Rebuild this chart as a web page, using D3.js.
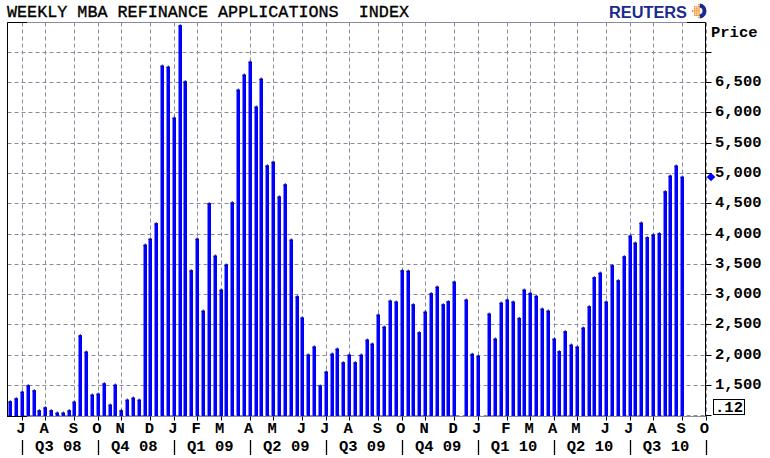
<!DOCTYPE html>
<html><head><meta charset="utf-8">
<script src="https://cdn.jsdelivr.net/npm/d3@7"></script>
<style>body{margin:0;background:#fff}svg{display:block}</style>
</head><body><svg id="c" width="770" height="458"></svg>
<script>
// ---------- data ----------
const title = "WEEKLY MBA REFINANCE APPLICATIONS  INDEX";
const firstWeek = Date.UTC(2008, 5, 22);   // first weekly bar (Sunday)
const axisEnd = Date.UTC(2010, 9, 3);      // right edge of the time axis
const values = [
  1224,1274,1384,1489,1406,1076,1125,1076,1038,1038,
  1076,1219,2314,2045,1335,1351,1521,1170,1500,1076,
  1252,1285,1252,3810,3909,4162,6764,6747,5906,7429,
  6505,3386,3909,2721,4492,3629,3068,3480,4508,6368,
  6616,6830,6088,6550,5117,5178,4605,4805,3894,2957,
  2607,1997,2129,1485,1715,2012,2094,1868,1995,1868,
  1995,2243,2177,2655,2457,2886,2870,3386,3381,2825,
  2363,2705,3007,3117,2825,2875,3200,null,2903,2007,
  1974,null,2672,2259,2853,2903,2870,2600,3068,3013,
  2964,2754,2721,2259,2051,2380,2160,2127,2441,2792,
  3271,3348,2870,3469,3221,3617,3959,3843,4173,3931,
  3975,3997,4690,4949,5114,4932
];
const monthLetters = ["J","A","S","O","N","D","J","F","M","A","M","J","J","A","S","O","N","D","J","F","M","A","M","J","J","A","S","O"];
const quarterLabels = ["Q3 08","Q4 08","Q1 09","Q2 09","Q3 09","Q4 09","Q1 10","Q2 10","Q3 10"];
const yTicks = [1000,1500,2000,2500,3000,3500,4000,4500,5000,5500,6000,6500,7000];
const yTickLabels = ["","1,500","2,000","2,500","3,000","3,500","4,000","4,500","5,000","5,500","6,000","6,500",""];
const axisTitle = "Price";
const boxLabel = ".12";

// ---------- layout ----------
const L = 7.5, R = 705.5, T = 22.5, B = 416.5;
const GRID = "#8a8a9c";
const MONO = "'Liberation Mono','Courier New',monospace";

const svg = d3.select("#c");
const x = d3.scaleUtc().domain([Date.UTC(2008,5,18,18), axisEnd]).range([L, R]);
const y = d3.scaleLinear().domain([1000, 7000]).range([415.3, 51.7]);

const weeks = values.map((v, i) => ({date: d3.utcDay.offset(new Date(firstWeek), 7 * i), v}));

// month ticks: first weekly date of each month
const allWeeks = d3.utcDay.range(new Date(firstWeek), d3.utcDay.offset(new Date(axisEnd), 1), 7);
const monthTicks = [];
allWeeks.forEach((d, i) => { if (i > 0 && d.getUTCMonth() !== allWeeks[i-1].getUTCMonth()) monthTicks.push(d); });

// ---------- grid ----------
const g = svg.append("g");
g.selectAll("line.hg").data(yTicks).join("line")
  .attr("x1", L).attr("x2", R)
  .attr("y1", d => Math.round(y(d)) + 0.5).attr("y2", d => Math.round(y(d)) + 0.5)
  .attr("stroke", GRID).attr("stroke-width", 1).attr("stroke-dasharray", "4,3");
g.selectAll("line.vg").data(monthTicks).join("line")
  .attr("x1", d => Math.round(x(d)) + 0.5).attr("x2", d => Math.round(x(d)) + 0.5)
  .attr("y1", T).attr("y2", B)
  .attr("stroke", GRID).attr("stroke-width", 1).attr("stroke-dasharray", "4,3");

// ---------- bars ----------
const bars = svg.append("g");
const valid = weeks.filter(d => d.v != null);
bars.selectAll("rect.bar").data(valid).join("rect")
  .attr("x", d => Math.round(x(d.date)) - 1.5).attr("width", 3.5)
  .attr("y", d => y(d.v)).attr("height", d => B + 0.5 - y(d.v))
  .attr("fill", "#0000ff");
bars.selectAll("rect.cap").data(valid).join("rect")
  .attr("x", d => Math.round(x(d.date)) - 1.5).attr("width", 3.5)
  .attr("y", d => y(d.v) - 0.5).attr("height", 1.5)
  .attr("fill", "#0000b0");
bars.selectAll("rect.nub").data(valid).join("rect")
  .attr("x", d => Math.round(x(d.date)) - 0.25).attr("width", 1)
  .attr("y", d => y(d.v) - 1.5).attr("height", 1.5)
  .attr("fill", "#0000b0");

// ---------- frame ----------
const f = svg.append("g").attr("fill", "none");
f.append("line").attr("x1", L).attr("x2", R).attr("y1", T).attr("y2", T).attr("stroke", GRID);
f.append("line").attr("x1", L).attr("x2", R).attr("y1", B).attr("y2", B).attr("stroke", GRID);
f.append("line").attr("x1", L).attr("x2", L).attr("y1", T).attr("y2", B + 0.5).attr("stroke", "#000");
f.append("line").attr("x1", L).attr("x2", 27).attr("y1", T).attr("y2", T).attr("stroke", "#000");
f.append("line").attr("x1", L).attr("x2", 27).attr("y1", B).attr("y2", B).attr("stroke", "#000");
f.append("line").attr("x1", 687).attr("x2", R).attr("y1", T).attr("y2", T).attr("stroke", "#000");
f.append("line").attr("x1", R).attr("x2", R).attr("y1", T).attr("y2", B).attr("stroke", "#000");

// right axis ticks + labels
const ra = svg.append("g");
ra.selectAll("line").data(yTicks).join("line")
  .attr("x1", R).attr("x2", R + 6)
  .attr("y1", d => Math.round(y(d)) + 0.5).attr("y2", d => Math.round(y(d)) + 0.5)
  .attr("stroke", "#000");
ra.selectAll("text").data(yTicks).join("text")
  .attr("x", 715).attr("y", d => y(d))
  .attr("dominant-baseline", "central")
  .attr("font-family", MONO).attr("font-weight", "bold").attr("font-size", 15.5)
  .text((d, i) => yTickLabels[i]);
svg.append("text").attr("x", 711).attr("y", 33).attr("dominant-baseline", "central")
  .attr("font-family", MONO).attr("font-weight", "bold").attr("font-size", 15.5).text(axisTitle);

// last-value diamond
const last = valid[valid.length - 1];
svg.append("path")
  .attr("d", d3.symbol(d3.symbolDiamond2, 48)())
  .attr("transform", `translate(711,${y(last.v)})`)
  .attr("fill", "#0000ff");

// .12 box
svg.append("rect").attr("x", 713.5).attr("y", 399.5).attr("width", 31).attr("height", 15)
  .attr("fill", "#fff").attr("stroke", "#000");
svg.append("text").attr("x", 729).attr("y", 407.5).attr("text-anchor", "middle").attr("dominant-baseline", "central")
  .attr("font-family", MONO).attr("font-weight", "bold").attr("font-size", 15.5).text(boxLabel);

// ---------- bottom axis ----------
const ba = svg.append("g");
ba.selectAll("line").data(monthTicks).join("line")
  .attr("x1", d => Math.round(x(d)) + 0.5).attr("x2", d => Math.round(x(d)) + 0.5)
  .attr("y1", B).attr("y2", B + 4).attr("stroke", "#000");
ba.selectAll("text").data(monthTicks).join("text")
  .attr("x", d => x(d) - 1).attr("y", 429)
  .attr("text-anchor", "middle").attr("dominant-baseline", "central")
  .attr("font-family", MONO).attr("font-weight", "bold").attr("font-size", 15.5)
  .text((d, i) => monthLetters[i]);

const qTicks = monthTicks.filter(d => d.getUTCMonth() % 3 === 0);
ba.selectAll("line.q").data(qTicks).join("line")
  .attr("x1", d => Math.round(x(d)) + 0.5).attr("x2", d => Math.round(x(d)) + 0.5)
  .attr("y1", 440).attr("y2", 455).attr("stroke", "#000").attr("stroke-width", 1.3);
ba.selectAll("text.q").data(quarterLabels).join("text")
  .attr("x", (d, i) => (x(qTicks[i]) + x(qTicks[i + 1])) / 2 - 1.5).attr("y", 447)
  .attr("text-anchor", "middle").attr("dominant-baseline", "central")
  .attr("font-family", MONO).attr("font-weight", "bold").attr("font-size", 15.5)
  .style("white-space", "pre")
  .text(d => d);

// ---------- title & logo ----------
svg.append("text").attr("x", 7).attr("y", 17)
  .attr("font-family", MONO).attr("font-size", 16.5)
  .attr("stroke", "#000").attr("stroke-width", 0.35)
  .attr("textLength", 402).attr("lengthAdjust", "spacingAndGlyphs")
  .style("white-space", "pre").text(title);

svg.append("text").attr("x", 609).attr("y", 17.5)
  .attr("font-family", "'Liberation Sans',Arial,sans-serif").attr("font-weight", "bold").attr("font-size", 16)
  .attr("fill", "#1b2a8c").attr("textLength", 78).attr("lengthAdjust", "spacingAndGlyphs")
  .text("REUTERS");
const logo = svg.append("g").attr("transform", "translate(699,11)");
const dots = [];
for (let i = -3; i <= 3; i++) for (let j = -3; j <= 3; j++) {
  const dx = i * 2.1, dy = j * 2.1;
  if (dx * dx + dy * dy <= 44 && dx < 2) dots.push([dx, dy]);
}
logo.selectAll("circle.d").data(dots).join("circle")
  .attr("cx", d => d[0]).attr("cy", d => d[1]).attr("r", 0.9).attr("fill", "#f08a1c");
logo.append("path").attr("d", d3.arc()({innerRadius: 3.5, outerRadius: 7.5, startAngle: 0.15, endAngle: Math.PI - 0.15}))
  .attr("fill", "#1b2a8c");
</script></body></html>
